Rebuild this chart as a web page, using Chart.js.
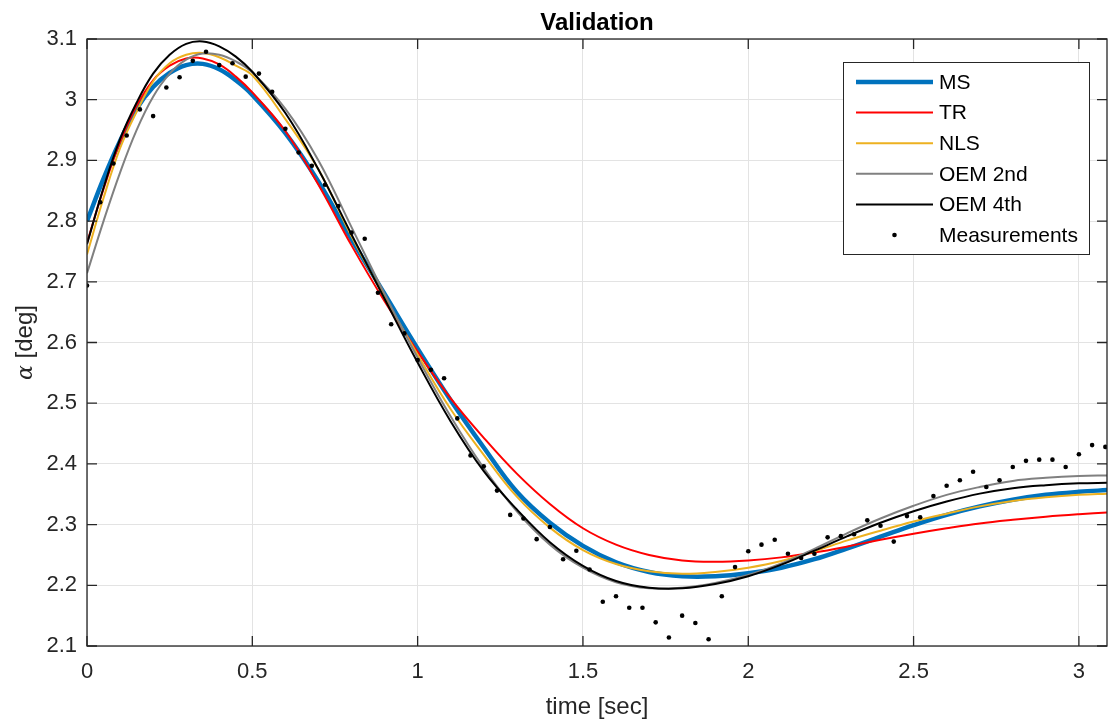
<!DOCTYPE html>
<html>
<head>
<meta charset="utf-8">
<title>Validation</title>
<script src="https://cdn.jsdelivr.net/npm/chart.js@4.4.1/dist/chart.umd.min.js"></script>
<style>
  html, body { margin: 0; padding: 0; background: #fff; }
  #wrap { width: 1111px; height: 723px; }
</style>
</head>
<body>
<div id="wrap"><canvas id="validationChart" width="1111" height="723"></canvas></div>
<script>
// time base of the fitted model responses [sec]
const fitTime = [0, 0.05, 0.1, 0.15, 0.2, 0.25, 0.3, 0.35, 0.4, 0.45, 0.5, 0.6, 0.7, 0.8, 0.9, 1.0,
  1.1, 1.2, 1.3, 1.4, 1.5, 1.6, 1.7, 1.8, 1.9, 2.0, 2.1, 2.2, 2.3, 2.4, 2.5, 2.6, 2.7, 2.8, 2.9, 3.0, 3.09];

// alpha [deg] predicted by each identified model
const msFit = [2.800, 2.870, 2.932, 2.985, 3.021, 3.044, 3.057, 3.059, 3.050, 3.032, 3.008, 2.945, 2.865, 2.770, 2.680, 2.590,
  2.505, 2.427, 2.354, 2.303, 2.265, 2.238, 2.222, 2.215, 2.215, 2.220, 2.229, 2.243, 2.261, 2.280, 2.299, 2.316, 2.330, 2.341, 2.349, 2.354, 2.357];
const trFit = [2.764, 2.853, 2.930, 2.990, 3.032, 3.056, 3.068, 3.068, 3.058, 3.038, 3.012, 2.948, 2.860, 2.760, 2.668, 2.585,
  2.508, 2.443, 2.384, 2.334, 2.294, 2.267, 2.250, 2.241, 2.239, 2.241, 2.246, 2.254, 2.264, 2.275, 2.285, 2.294, 2.302, 2.308, 2.313, 2.317, 2.320];
const nlsFit = [2.745, 2.838, 2.920, 2.980, 3.030, 3.060, 3.074, 3.077, 3.070, 3.056, 3.040, 2.968, 2.885, 2.775, 2.675, 2.580,
  2.490, 2.415, 2.346, 2.295, 2.258, 2.235, 2.223, 2.219, 2.222, 2.229, 2.240, 2.256, 2.274, 2.290, 2.305, 2.318, 2.330, 2.339, 2.345, 2.349, 2.351];
const oem2Fit = [2.714, 2.800, 2.880, 2.950, 3.005, 3.043, 3.066, 3.076, 3.074, 3.063, 3.045, 2.985, 2.900, 2.790, 2.680, 2.575,
  2.478, 2.393, 2.322, 2.267, 2.229, 2.205, 2.195, 2.196, 2.204, 2.217, 2.236, 2.260, 2.286, 2.310, 2.331, 2.349, 2.362, 2.372, 2.377, 2.380, 2.381];
const oem4Fit = [2.762, 2.855, 2.935, 2.995, 3.043, 3.074, 3.092, 3.096, 3.088, 3.071, 3.046, 2.978, 2.885, 2.778, 2.672, 2.567,
  2.470, 2.388, 2.325, 2.271, 2.232, 2.207, 2.196, 2.195, 2.202, 2.215, 2.234, 2.257, 2.281, 2.303, 2.322, 2.338, 2.351, 2.360, 2.365, 2.368, 2.369];

// measured alpha samples
const measTime = [0, 0.04, 0.08, 0.12, 0.16, 0.2, 0.24, 0.28, 0.32, 0.36, 0.4, 0.44, 0.48, 0.52, 0.56, 0.6,
  0.64, 0.68, 0.72, 0.76, 0.8, 0.84, 0.88, 0.92, 0.96, 1.0, 1.04, 1.08, 1.12, 1.16, 1.2, 1.24,
  1.28, 1.32, 1.36, 1.4, 1.44, 1.48, 1.52, 1.56, 1.6, 1.64, 1.68, 1.72, 1.76, 1.8, 1.84, 1.88,
  1.92, 1.96, 2.0, 2.04, 2.08, 2.12, 2.16, 2.2, 2.24, 2.28, 2.32, 2.36, 2.4, 2.44, 2.48, 2.52,
  2.56, 2.6, 2.64, 2.68, 2.72, 2.76, 2.8, 2.84, 2.88, 2.92, 2.96, 3.0, 3.04, 3.08];
const measAlpha = [2.694, 2.831, 2.895, 2.941, 2.984, 2.973, 3.020, 3.037, 3.064, 3.079, 3.057, 3.060, 3.038, 3.043, 3.013, 2.952,
  2.913, 2.891, 2.860, 2.825, 2.781, 2.771, 2.682, 2.630, 2.615, 2.571, 2.555, 2.541, 2.475, 2.414, 2.396, 2.356,
  2.316, 2.310, 2.276, 2.296, 2.243, 2.257, 2.226, 2.173, 2.182, 2.163, 2.163, 2.139, 2.114, 2.150, 2.138, 2.111,
  2.182, 2.230, 2.256, 2.267, 2.275, 2.252, 2.245, 2.252, 2.279, 2.281, 2.284, 2.307, 2.298, 2.272, 2.314, 2.312,
  2.347, 2.364, 2.373, 2.387, 2.362, 2.373, 2.395, 2.405, 2.407, 2.407, 2.395, 2.416, 2.431, 2.428];

const xTicks = [0, 0.5, 1, 1.5, 2, 2.5, 3];
const yTicks = [2.1, 2.2, 2.3, 2.4, 2.5, 2.6, 2.7, 2.8, 2.9, 3, 3.1];

const FONT = "'Liberation Sans', Arial, Helvetica, sans-serif";
const AXIS_COLOR = '#262626';

const pairs = (xs, ys) => xs.map((t, i) => ({ x: t, y: ys[i] }));

function fitLine(label, values, color, width, order) {
  return {
    label,
    data: pairs(fitTime, values),
    showLine: true,
    borderColor: color,
    backgroundColor: color,
    borderWidth: width,
    pointRadius: 0,
    tension: 0.4,
    order
  };
}

// box, inward ticks, titles and the legend drawn on top of the plot
const decorations = {
  id: 'decorations',
  afterDraw(chart) {
    const { ctx, chartArea: a, scales: { x, y } } = chart;
    const tickLen = 10;
    ctx.save();

    ctx.strokeStyle = AXIS_COLOR;
    ctx.lineWidth = 1.3;
    ctx.beginPath();
    xTicks.forEach(v => {
      const px = x.getPixelForValue(v);
      ctx.moveTo(px, a.bottom); ctx.lineTo(px, a.bottom - tickLen);
      ctx.moveTo(px, a.top); ctx.lineTo(px, a.top + tickLen);
    });
    yTicks.forEach(v => {
      const py = y.getPixelForValue(v);
      ctx.moveTo(a.left, py); ctx.lineTo(a.left + tickLen, py);
      ctx.moveTo(a.right, py); ctx.lineTo(a.right - tickLen, py);
    });
    ctx.stroke();
    ctx.strokeRect(a.left, a.top, a.right - a.left, a.bottom - a.top);

    // title
    ctx.fillStyle = '#000';
    ctx.font = 'bold 24px ' + FONT;
    ctx.textAlign = 'center';
    ctx.textBaseline = 'alphabetic';
    ctx.fillText('Validation', (a.left + a.right) / 2, 30);

    // x label
    ctx.fillStyle = AXIS_COLOR;
    ctx.font = '24px ' + FONT;
    ctx.fillText('time [sec]', (a.left + a.right) / 2, 714);

    // y label: greek alpha in italic serif, then the unit
    ctx.save();
    ctx.translate(32, (a.top + a.bottom) / 2);
    ctx.rotate(-Math.PI / 2);
    const greekFont = 'italic 22px "DejaVu Serif", serif';
    const unitFont = '24px ' + FONT;
    ctx.font = greekFont;
    const wA = ctx.measureText('\u03B1').width;
    ctx.font = unitFont;
    const wU = ctx.measureText(' [deg]').width;
    const start = -(wA + wU) / 2;
    ctx.textAlign = 'left';
    ctx.font = greekFont;
    ctx.fillText('\u03B1', start, 0);
    ctx.font = unitFont;
    ctx.fillText(' [deg]', start + wA, 0);
    ctx.restore();

    // legend
    const box = { left: 843, top: 62, width: 246, height: 192 };
    ctx.fillStyle = '#fff';
    ctx.fillRect(box.left, box.top, box.width, box.height);
    ctx.strokeStyle = AXIS_COLOR;
    ctx.lineWidth = 1;
    ctx.strokeRect(box.left + 0.5, box.top + 0.5, box.width, box.height);
    ctx.font = '21px ' + FONT;
    ctx.textAlign = 'left';
    ctx.textBaseline = 'middle';
    chart.data.datasets.forEach((ds, i) => {
      const cy = 82 + i * 30.6;
      if (ds.showLine) {
        ctx.strokeStyle = ds.borderColor;
        ctx.lineWidth = ds.borderWidth;
        ctx.beginPath();
        ctx.moveTo(856, cy);
        ctx.lineTo(933, cy);
        ctx.stroke();
      } else {
        ctx.fillStyle = ds.backgroundColor;
        ctx.beginPath();
        ctx.arc(894.5, cy, ds.pointRadius, 0, Math.PI * 2);
        ctx.fill();
      }
      ctx.fillStyle = '#000';
      ctx.fillText(ds.label, 939, cy + 1);
    });

    ctx.restore();
  }
};

const chart = new Chart(document.getElementById('validationChart'), {
  type: 'scatter',
  data: {
    datasets: [
      fitLine('MS', msFit, '#0072BD', 4.5, 5),
      fitLine('TR', trFit, '#FF0000', 2, 4),
      fitLine('NLS', nlsFit, '#EDB120', 2, 3),
      fitLine('OEM 2nd', oem2Fit, '#808080', 2, 2),
      fitLine('OEM 4th', oem4Fit, '#000000', 2, 1),
      {
        label: 'Measurements',
        data: pairs(measTime, measAlpha),
        showLine: false,
        pointRadius: 2.3,
        pointBorderWidth: 0,
        backgroundColor: '#000',
        borderColor: '#000',
        order: 0
      }
    ]
  },
  options: {
    responsive: false,
    animation: false,
    devicePixelRatio: 1,
    layout: { padding: { top: 39, right: -2, left: 0, bottom: 0 } },
    plugins: {
      legend: { display: false },
      title: { display: false },
      tooltip: { enabled: false }
    },
    scales: {
      x: {
        type: 'linear',
        min: 0,
        max: 3.085,
        afterFit: s => { s.height = 77; },
        afterBuildTicks: s => { s.ticks = xTicks.map(v => ({ value: v })); },
        ticks: {
          includeBounds: false,
          padding: 13,
          color: AXIS_COLOR,
          font: { family: FONT, size: 22 },
          callback: v => String(+v.toFixed(2))
        },
        grid: { color: '#e3e3e3', lineWidth: 1, drawTicks: false },
        border: { display: false }
      },
      y: {
        type: 'linear',
        min: 2.1,
        max: 3.1,
        afterFit: s => { s.width = 87; },
        afterBuildTicks: s => { s.ticks = yTicks.map(v => ({ value: v })); },
        ticks: {
          includeBounds: false,
          padding: 10,
          color: AXIS_COLOR,
          font: { family: FONT, size: 22 },
          callback: v => String(+v.toFixed(2))
        },
        grid: { color: '#e3e3e3', lineWidth: 1, drawTicks: false },
        border: { display: false }
      }
    }
  },
  plugins: [decorations]
});
</script>
</body>
</html>
